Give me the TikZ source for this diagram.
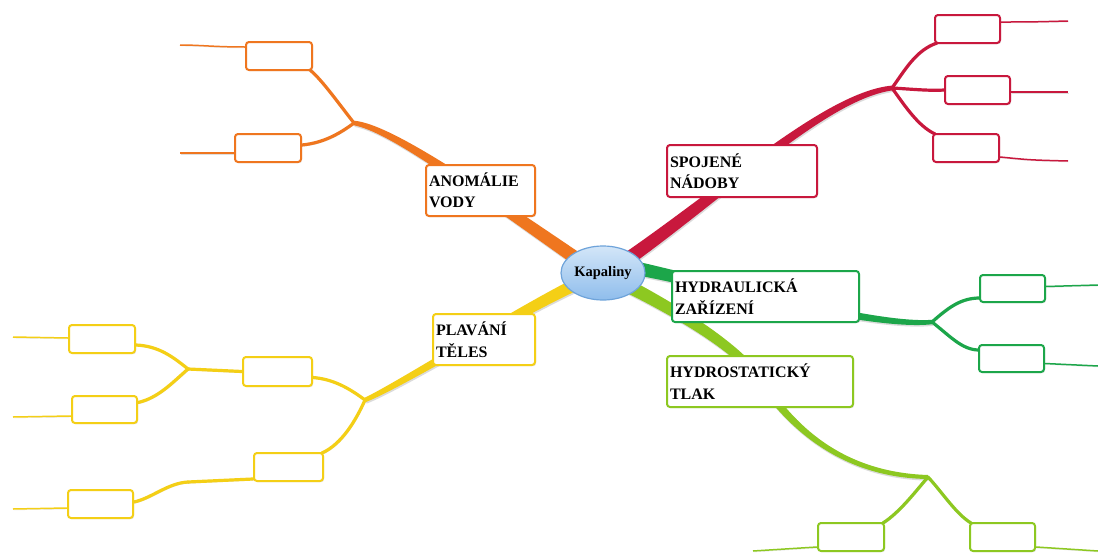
\documentclass[tikz,border=0pt]{standalone}
\usepackage{fontspec}
\setmainfont{Liberation Serif}
\usetikzlibrary{calc,shapes.geometric,shadows,backgrounds}

\definecolor{cOr}{HTML}{EF761F}
\definecolor{cRd}{HTML}{C8183D}
\definecolor{cGn}{HTML}{1CA64A}
\definecolor{cLm}{HTML}{8DC821}
\definecolor{cYe}{HTML}{F4CF16}
\definecolor{hubtop}{HTML}{D3E6F8}
\definecolor{hubbot}{HTML}{8FBDEC}
\definecolor{hubedge}{HTML}{6EA3DA}

% tapered branch: colour, start, control 1, control 2, end, half width at start, half width at end
\newcommand\branchfill[7]{%
  \pgfmathsetmacro\wca{(2*#6+#7)/3}%
  \pgfmathsetmacro\wcb{(#6+2*#7)/3}%
  \begin{scope}[transform canvas={shift={(0.8,1.6)}}]
  \fill[black,opacity=.14] ($(#2)!#6pt!90:(#3)$) .. controls ($(#3)!\wca pt!-90:(#2)$) and ($(#4)!\wcb pt!90:(#5)$) .. ($(#5)!#7pt!-90:(#4)$)
    -- ($(#5)!#7pt!90:(#4)$) .. controls ($(#4)!\wcb pt!-90:(#5)$) and ($(#3)!\wca pt!90:(#2)$) .. ($(#2)!#6pt!-90:(#3)$) -- cycle;
  \end{scope}
  \fill[#1] ($(#2)!#6pt!90:(#3)$) .. controls ($(#3)!\wca pt!-90:(#2)$) and ($(#4)!\wcb pt!90:(#5)$) .. ($(#5)!#7pt!-90:(#4)$)
    -- ($(#5)!#7pt!90:(#4)$) .. controls ($(#4)!\wcb pt!-90:(#5)$) and ($(#3)!\wca pt!90:(#2)$) .. ($(#2)!#6pt!-90:(#3)$) -- cycle;
}

\tikzset{
  topic/.style={draw=#1, line width=2pt, rounded corners=3pt, fill=white,
    align=left, font=\bfseries\fontsize{16}{21.5}\selectfont,
    inner xsep=3pt, inner ysep=0pt,
    drop shadow={shadow xshift=1pt, shadow yshift=-1.2pt, opacity=0.25}},
  leaf/.style={draw=#1, line width=2pt, rounded corners=3pt, fill=white, inner sep=0pt,
    drop shadow={shadow xshift=1pt, shadow yshift=-1.2pt, opacity=0.25}},
  twig/.style={draw=#1, line width=3.2pt, line cap=round,
    preaction={draw=black, opacity=.13, transform canvas={shift={(0.8,1.3)}}}},
  tail/.style={draw=#1, line width=1.5pt,
    preaction={draw=black, opacity=.13, transform canvas={shift={(0.6,1)}}}},
  hub/.style={ellipse, draw=hubedge, line width=1.2pt, top color=hubtop, bottom color=hubbot,
    minimum width=84pt, minimum height=54pt, inner sep=0pt,
    font=\bfseries\fontsize{14.5}{16}\selectfont},
}

\begin{document}
\begin{tikzpicture}[x=1pt,y=-1pt]
\useasboundingbox (0,0) rectangle (1098,552);

% central idea
\node[hub] (kap) at (603,273) {Kapaliny};

% main topics
\node[topic=cOr, text width=103pt, minimum height=51pt] (ano) at (480.5,190.5) {ANOMÁLIE\\VODY};
\node[topic=cRd, text width=144pt, minimum height=52pt] (spo) at (742,171) {SPOJENÉ\\NÁDOBY};
\node[topic=cGn, text width=181pt, minimum height=51pt] (hyd) at (765.5,296.5) {HYDRAULICKÁ\\ZAŘÍZENÍ};
\node[topic=cLm, text width=180pt, minimum height=51pt] (hst) at (760,381.5) {HYDROSTATICKÝ\\TLAK};
\node[topic=cYe, text width=96pt, minimum height=51pt] (pla) at (484,339.5) {PLAVÁNÍ\\TĚLES};

% empty sub-topics
\node[leaf=cOr, minimum width=66pt, minimum height=28pt] (o1) at (279,56) {};
\node[leaf=cOr, minimum width=66pt, minimum height=28pt] (o2) at (268,148) {};
\node[leaf=cRd, minimum width=65pt, minimum height=28pt] (r1) at (967.5,29) {};
\node[leaf=cRd, minimum width=65pt, minimum height=28pt] (r2) at (977.5,90) {};
\node[leaf=cRd, minimum width=66pt, minimum height=28pt] (r3) at (966,148) {};
\node[leaf=cGn, minimum width=65pt, minimum height=27pt] (g1) at (1012.5,288.5) {};
\node[leaf=cGn, minimum width=65pt, minimum height=27pt] (g2) at (1011.5,358.5) {};
\node[leaf=cLm, minimum width=66pt, minimum height=28pt] (l1) at (851,537) {};
\node[leaf=cLm, minimum width=65pt, minimum height=28pt] (l2) at (1002.5,537) {};
\node[leaf=cYe, minimum width=69pt, minimum height=29pt] (y1) at (277.5,371.5) {};
\node[leaf=cYe, minimum width=69pt, minimum height=28pt] (y2) at (288.5,467) {};
\node[leaf=cYe, minimum width=66pt, minimum height=28pt] (y3) at (102,339) {};
\node[leaf=cYe, minimum width=65pt, minimum height=27pt] (y4) at (104.5,409.5) {};
\node[leaf=cYe, minimum width=65pt, minimum height=28pt] (y5) at (100.5,504) {};

% branch points, hub ends and free line ends
\coordinate (ob) at (354,123);  \coordinate (oh) at (590,268);
\coordinate (rb) at (892,88);   \coordinate (rh) at (615,268);
\coordinate (gb) at (932,322);  \coordinate (gh) at (620,265);
\coordinate (lb) at (928,477);  \coordinate (lh) at (620,282); \coordinate (lm) at (760,380);
\coordinate (yb) at (365,400);  \coordinate (yh) at (585,280);
\coordinate (y1b) at (188,369); \coordinate (y2b) at (188,482);
\coordinate (ot1) at (180,45);  \coordinate (ot2) at (180,153);
\coordinate (rt1) at (1068,21); \coordinate (rt2) at (1068,92); \coordinate (rt3) at (1068,161);
\coordinate (gt1) at (1098,285); \coordinate (gt2) at (1098,366);
\coordinate (lt1) at (753,551); \coordinate (lt2) at (1098,551);
\coordinate (yt3) at (13,337);  \coordinate (yt4) at (13,417); \coordinate (yt5) at (13,509);

\begin{scope}[on background layer]
  \fill[white] (0,0) rectangle (1098,552);

  % thick branches from the centre
  \branchfill{cOr}{ob}{390,128}{470,185}{oh}{2.3}{6.8}
  \branchfill{cRd}{rb}{825,96}{725,192}{rh}{2.4}{7}
  \branchfill{cGn}{gb}{870,328}{700,280}{gh}{2.2}{7}
  \branchfill{cLm}{lh}{680,312}{740,350}{lm}{6.8}{4.3}
  \branchfill{cLm}{lm}{790,425}{840,475}{lb}{4.3}{2}
  \branchfill{cYe}{yb}{400,385}{520,310}{yh}{2.2}{6.3}

  % orange
  \draw[twig=cOr] (ob) .. controls (336,100) and (322,80) .. ($(o1.south east)+(-3,-1)$);
  \draw[twig=cOr] (ob) .. controls (338,135) and (322,143) .. ($(o2.east)+(0,-3)$);
  \draw[tail=cOr] ($(o1.north west)+(0,6)$) .. controls (215,47) and (200,45) .. (ot1);
  \draw[tail=cOr] ($(o2.south west)+(0,-10)$) -- (ot2);

  % red
  \draw[twig=cRd] (rb) .. controls (905,70) and (916,50) .. ($(r1.south west)+(3,-1)$);
  \draw[twig=cRd] (rb) .. controls (910,89) and (930,91) .. (r2.west);
  \draw[twig=cRd] (rb) .. controls (905,106) and (918,126) .. ($(r3.north west)+(3,1)$);
  \draw[tail=cRd] ($(r1.north east)+(0,8)$) .. controls (1030,22) .. (rt1);
  \draw[tail=cRd] ($(r2.east)+(0,2)$) -- (rt2);
  \draw[tail=cRd] ($(r3.south east)+(0,-6)$) .. controls (1030,160) .. (rt3);

  % green
  \draw[twig=cGn] (gb) .. controls (950,306) and (962,298) .. ($(g1.south west)+(1,-5)$);
  \draw[twig=cGn] (gb) .. controls (950,336) and (962,350) .. ($(g2.north west)+(1,6)$);
  \draw[tail=cGn] ($(g1.east)+(0,-2)$) -- (gt1);
  \draw[tail=cGn] ($(g2.east)+(0,5)$) -- (gt2);

  % lime
  \draw[twig=cLm] (lb) .. controls (915,492) and (900,512) .. ($(l1.north east)+(-2,1)$);
  \draw[twig=cLm] (lb) .. controls (942,492) and (956,514) .. ($(l2.north west)+(2,1)$);
  \draw[tail=cLm] ($(l1.west)+(0,10)$) -- (lt1);
  \draw[tail=cLm] ($(l2.east)+(0,10)$) -- (lt2);

  % yellow
  \draw[twig=cYe] (yb) .. controls (345,385) and (330,379) .. ($(y1.east)+(0,6)$);
  \draw[twig=cYe] (yb) .. controls (356,420) and (342,444) .. ($(y2.north east)+(-2,1)$);
  \draw[twig=cYe] (y1.west) -- (y1b);
  \draw[twig=cYe] (y1b) .. controls (172,356) and (158,346) .. ($(y3.east)+(0,6)$);
  \draw[twig=cYe] (y1b) .. controls (172,383) and (158,398) .. ($(y4.east)+(0,-7)$);
  \draw[twig=cYe] ($(y2.west)+(0,12)$) -- (y2b);
  \draw[twig=cYe] (y2b) .. controls (168,483) and (152,498) .. ($(y5.east)+(0,-2)$);
  \draw[tail=cYe] ($(y3.west)+(0,-1)$) -- (yt3);
  \draw[tail=cYe] ($(y4.west)+(0,6.5)$) -- (yt4);
  \draw[tail=cYe] ($(y5.west)+(0,4)$) -- (yt5);
\end{scope}
\end{tikzpicture}
\end{document}
